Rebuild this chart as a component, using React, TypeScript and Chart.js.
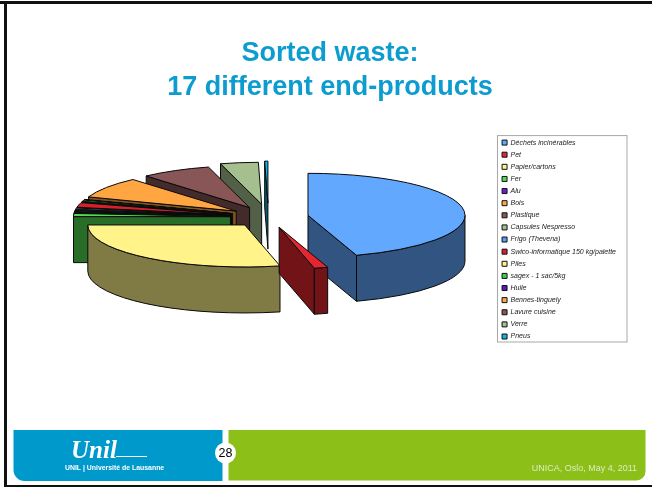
import React, { useEffect, useRef } from "react";
import { Chart, registerables } from "chart.js";

Chart.register(...registerables);

const categories = [
  "Déchets incinérables", "Pet", "Papier/cartons", "Fer", "Alu", "Bois", "Plastique",
  "Capsules Nespresso", "Frigo (Thevena)", "Swico-informatique 150 kg/palette", "Piles",
  "sagex - 1 sac/5kg", "Huile", "Bennes-tinguely", "Lavure cuisine", "Verre", "Pneus",
];
const shares = [45, 1.4, 28.6, 1.2, 0.2, 0.3, 0.3, 0.3, 0.5, 1.8, 0.2, 0.5, 0.2, 8.06, 7.22, 3.89, 0.33];
const sliceColors = [
  "#62a8ff", "#e3262f", "#fff38a", "#4fdc4f", "#6a1fd0", "#ffa642", "#885656", "#a5bf8f",
  "#5a9cf0", "#d8202a", "#fff08a", "#3fd04f", "#5a18c0", "#ffa642", "#885656", "#a5bf8f", "#10b4e4",
];
const explodePx = [40, 40, 38, 38, 38, 38, 38, 38, 38, 38, 38, 38, 38, 39, 40, 48, 52];

const FONT = "'Liberation Sans', Arial, sans-serif";
const TILT = 42 / 157;
const DEPTH = 46;
const CENTER_Y = 217;
const SHIFT_X = 3;

function shade(hex: string) {
  const n = parseInt(hex.slice(1), 16);
  const c = (s: number) => Math.round(((n >> s) & 255) * 0.5);
  return `rgb(${c(16)},${c(8)},${c(0)})`;
}

const slidePlugin = {
  id: "slide",
  beforeDraw(chart: any) {
    const { ctx, width, height } = chart;
    ctx.save();
    ctx.fillStyle = "#fff";
    ctx.fillRect(0, 0, width, height);
    ctx.fillStyle = "#111";
    ctx.fillRect(0, 1, width, 3);
    ctx.fillRect(4, 1, 3, 486);
    ctx.fillRect(4, 485, width, 2);
    // footer bands
    ctx.fillStyle = "#0099cc";
    ctx.beginPath();
    ctx.roundRect(13.5, 430, 209, 51, [0, 0, 0, 11]);
    ctx.fill();
    ctx.fillStyle = "#8cc019";
    ctx.beginPath();
    ctx.roundRect(228.5, 430, 417, 50.5, [0, 0, 9, 0]);
    ctx.fill();
    ctx.fillStyle = "#fff";
    ctx.beginPath();
    ctx.arc(225.5, 453, 10.5, 0, Math.PI * 2);
    ctx.fill();
    ctx.fillStyle = "#000";
    ctx.font = `12.5px ${FONT}`;
    ctx.textAlign = "center";
    ctx.textBaseline = "middle";
    ctx.fillText("28", 225.5, 453.5);
    ctx.fillStyle = "#dfe9c4";
    ctx.font = `9px ${FONT}`;
    ctx.textAlign = "right";
    ctx.textBaseline = "alphabetic";
    ctx.fillText("UNICA, Oslo, May 4, 2011", 637, 471);
    // logo
    ctx.fillStyle = "#fff";
    ctx.font = "italic bold 25px 'Liberation Serif', serif";
    ctx.textAlign = "left";
    ctx.fillText("Unil", 71, 458);
    ctx.fillRect(116, 456, 31, 1);
    ctx.font = `bold 6.9px ${FONT}`;
    ctx.textBaseline = "middle";
    ctx.fillText("UNIL | Université de Lausanne", 65, 468);
    // legend frame
    const boxes = chart.legend?.legendHitBoxes;
    if (boxes?.length) {
      const first = boxes[0];
      const last = boxes[boxes.length - 1];
      ctx.strokeStyle = "#a8a8a8";
      ctx.lineWidth = 1;
      ctx.strokeRect(497.5, first.top - 3.5, 129.5, last.top + last.height - first.top + 5.5);
    }
    ctx.restore();
  },
  beforeDatasetsDraw(chart: any) {
    const { ctx, chartArea } = chart;
    const meta = chart.getDatasetMeta(0);
    const cy0 = (chartArea.top + chartArea.bottom) / 2;
    const order = [...meta.data].sort((p: any, q: any) => {
      const s = (e: any) => Math.sin((e.startAngle + e.endAngle) / 2);
      return s(p) - s(q);
    });
    ctx.save();
    ctx.lineWidth = 1;
    ctx.lineJoin = "round";
    for (const arc of order as any[]) {
      const { x, y, startAngle, endAngle, outerRadius: r, options } = arc;
      const mid = (startAngle + endAngle) / 2;
      const off = (options.offset || 0) / 4;
      const cx = x + SHIFT_X + Math.cos(mid) * off;
      const cy = CENTER_Y + (y - cy0) + Math.sin(mid) * off * TILT;
      const rim = (a: number) => [cx + r * Math.cos(a), cy + r * TILT * Math.sin(a)];
      ctx.strokeStyle = "#0a0a0a";
      ctx.fillStyle = shade(options.backgroundColor);
      // only the radial walls that face the viewer
      const walls: number[] = [];
      if (Math.cos(startAngle) < -1e-6) walls.push(startAngle);
      if (Math.cos(endAngle) > 1e-6) walls.push(endAngle);
      for (const a of walls) {
        const [px, py] = rim(a);
        ctx.beginPath();
        ctx.moveTo(cx, cy);
        ctx.lineTo(px, py);
        ctx.lineTo(px, py + DEPTH);
        ctx.lineTo(cx, cy + DEPTH);
        ctx.closePath();
        ctx.fill();
        ctx.stroke();
      }
      const lo = Math.max(startAngle, 0);
      const hi = Math.min(endAngle, Math.PI);
      if (hi > lo) {
        ctx.beginPath();
        ctx.ellipse(cx, cy, r, r * TILT, 0, lo, hi);
        ctx.ellipse(cx, cy + DEPTH, r, r * TILT, 0, hi, lo, true);
        ctx.closePath();
        ctx.fill();
        ctx.stroke();
      }
      ctx.fillStyle = options.backgroundColor;
      ctx.beginPath();
      ctx.moveTo(cx, cy);
      ctx.ellipse(cx, cy, r, r * TILT, 0, startAngle, endAngle);
      ctx.closePath();
      ctx.fill();
      ctx.stroke();
    }
    ctx.restore();
    return false;
  },
};

export default function App() {
  const ref = useRef<HTMLCanvasElement>(null);
  useEffect(() => {
    document.body.style.margin = "0";
    const chart = new Chart(ref.current!, {
      type: "pie",
      data: {
        labels: categories,
        datasets: [{
          data: shares,
          backgroundColor: sliceColors,
          borderColor: "#111",
          borderWidth: 1,
          offset: explodePx.map((v) => v * 4),
          radius: 157,
        }],
      },
      options: {
        responsive: false,
        animation: false,
        layout: { padding: { left: 34, right: 26 } },
        plugins: {
          tooltip: { enabled: false },
          title: {
            display: true,
            text: ["Sorted waste:", "17 different end-products"],
            color: "#0d9ccf",
            font: { family: FONT, size: 27, weight: "bold", lineHeight: 1.24 },
            padding: { top: 37, bottom: 30 },
          },
          legend: {
            display: true,
            position: "right",
            align: "start",
            fullSize: false,
            labels: {
              boxWidth: 5,
              boxHeight: 5,
              padding: 5.12,
              color: "#222",
              font: { family: FONT, size: 7, style: "italic" },
            },
          },
        },
      } as any,
      plugins: [slidePlugin as any],
    });
    return () => chart.destroy();
  }, []);
  return <canvas ref={ref} width={652} height={488} style={{ display: "block" }} />;
}
